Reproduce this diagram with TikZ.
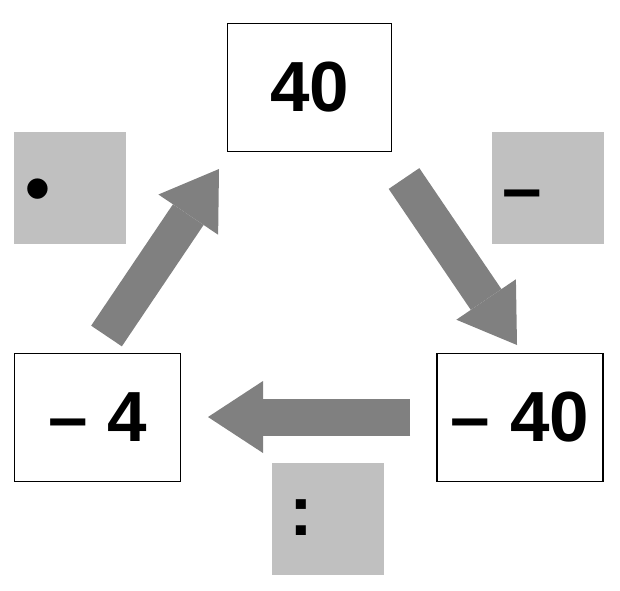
\documentclass[tikz,border=0pt]{standalone}
\usepackage{fontspec}
\setmainfont{Liberation Sans}
\usetikzlibrary{arrows.meta}
\definecolor{opgray}{HTML}{C0C0C0}
\definecolor{arrowgray}{HTML}{808080}
\tikzset{
  numbox/.style={draw, line width=1.2pt, minimum width=166pt, minimum height=128pt,
    inner sep=0pt, font=\fontsize{71}{80}\selectfont\bfseries},
  opbox/.style={fill=opgray, minimum size=112pt, inner sep=0pt},
  opsign/.style={anchor=base, inner sep=0pt, font=\fontsize{71}{80}\selectfont\bfseries},
  bigarrow/.style={draw=arrowgray, line width=37pt,
    -{Triangle[width=72pt,length=55pt,line width=0pt]}}
}
\begin{document}
\begin{tikzpicture}[x=1pt,y=-1pt]
\useasboundingbox (0,0) rectangle (620,590);
% numbers
\node[numbox, minimum width=164pt] (top) at (309.5,87.5) {40};
\node[numbox] (left) at (97.7,417.5) {– 4};
\node[numbox] (right) at (520,417.5) {– 40};
% operations
\node[opbox] (mul) at (70.3,188) {};
\node[opbox] (sub) at (548,188) {};
\node[opbox] (div) at (327.5,518.7) {};
\node[opsign] at (38,212) {•};
\node[opsign] at (522.5,212.5) {–};
\node[opsign] at (301,535) {:};
% arrows
\coordinate (a1) at (106.5,336);
\coordinate (b1) at (219,169);
\coordinate (a2) at (404,178.5);
\coordinate (b2) at (517,345);
\coordinate (a3) at (410,417);
\coordinate (b3) at (208,417);
\draw[bigarrow] (a1) -- (b1);
\draw[bigarrow] (a2) -- (b2);
\draw[bigarrow] (a3) -- (b3);
\end{tikzpicture}
\end{document}
